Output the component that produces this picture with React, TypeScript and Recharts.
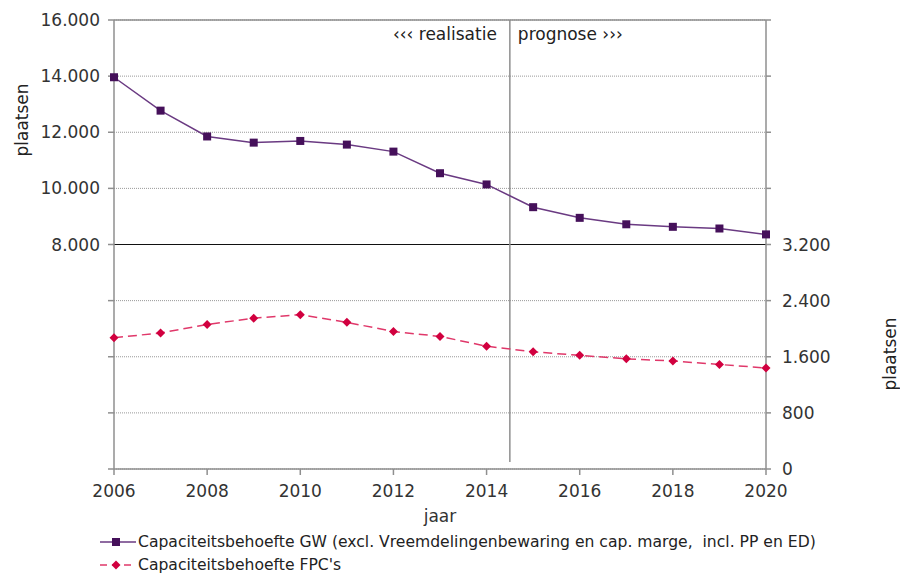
import { ComposedChart, Line, XAxis, YAxis, CartesianGrid, ReferenceLine, Label } from "recharts";

const years = [2006, 2007, 2008, 2009, 2010, 2011, 2012, 2013, 2014, 2015, 2016, 2017, 2018, 2019, 2020];
const gwValues = [13960, 12770, 11850, 11630, 11690, 11560, 11310, 10540, 10140, 9330, 8950, 8720, 8630, 8570, 8360];
const fpcValues = [1870, 1940, 2060, 2150, 2200, 2090, 1960, 1890, 1750, 1670, 1620, 1570, 1540, 1490, 1440];
const yearTicks = [2006, 2008, 2010, 2012, 2014, 2016, 2018, 2020];
const leftTicks = [0, 2000, 4000, 6000, 8000, 10000, 12000, 14000, 16000];
const rightTicks = [0, 800, 1600, 2400, 3200, 4000, 4800, 5600, 6400];

const gwName = "Capaciteitsbehoefte GW (excl. Vreemdelingenbewaring en cap. marge,  incl. PP en ED)";
const fpcName = "Capaciteitsbehoefte FPC's";

const data = years.map((year, i) => ({ year, gw: gwValues[i], fpc: fpcValues[i] }));

const FONT = "'DejaVu Sans', Verdana, sans-serif";
const GRAY = "#8f8f8f";
const PURPLE_LINE = "#6a3a82";
const PURPLE_DOT = "#45105a";
const RED_LINE = "#e0386a";
const RED_DOT = "#d1003f";

const fmt = (v: number) => String(v).replace(/\B(?=(\d{3})+(?!\d))/g, ".");

const SquareDot = (props: any) => {
  const { cx, cy } = props;
  if (cx == null || cy == null) return null;
  return <rect x={cx - 4} y={cy - 4} width={8} height={8} fill={PURPLE_DOT} />;
};

const DiamondDot = (props: any) => {
  const { cx, cy } = props;
  if (cx == null || cy == null) return null;
  return <polygon points={`${cx},${cy - 4.5} ${cx + 4.5},${cy} ${cx},${cy + 4.5} ${cx - 4.5},${cy}`} fill={RED_DOT} />;
};

const tickStyle = { fontSize: 17, fill: "#333", fontFamily: FONT };

// rotated axis title, placed relative to the axis box
const axisTitle = (dx: number, dy: number) => (p: any) => {
  const x = p.viewBox.x + dx;
  const y = p.viewBox.y + dy;
  return (
    <text x={x} y={y} transform={`rotate(-90 ${x} ${y})`} textAnchor="middle" dominantBaseline="central" style={{ fontSize: 17, fill: "#222", fontFamily: FONT }}>
      plaatsen
    </text>
  );
};

export default function App() {
  return (
    <div style={{ position: "relative", width: 900, height: 575, fontFamily: FONT }}>
      <style>{"body{margin:0}"}</style>
      <ComposedChart width={900} height={538} data={data} margin={{ top: 20, right: 10, bottom: 16, left: 18 }}>
        <CartesianGrid yAxisId="left" vertical={false} stroke="#999" strokeDasharray="1 1" />
        <XAxis
          dataKey="year"
          type="number"
          domain={[2006, 2020]}
          ticks={yearTicks}
          height={53}
          tickSize={6}
          tickMargin={10}
          tick={tickStyle}
          stroke={GRAY}
          strokeWidth={1.5}
        >
          <Label value="jaar" position="insideBottom" offset={0} style={{ fontSize: 17, fill: "#333", fontFamily: FONT }} />
        </XAxis>
        <YAxis
          yAxisId="left"
          domain={[0, 16000]}
          ticks={leftTicks}
          width={96}
          tickSize={6}
          tickMargin={8}
          tick={tickStyle}
          tickFormatter={(v: number) => (v >= 8000 ? fmt(v) : "")}
          stroke={GRAY}
          strokeWidth={1.5}
          label={{ content: axisTitle(4, 100) }}
        />
        <YAxis
          yAxisId="right"
          orientation="right"
          domain={[0, 6400]}
          ticks={rightTicks}
          width={124}
          tickSize={5}
          tickMargin={11}
          tick={tickStyle}
          tickFormatter={(v: number) => (v <= 3200 ? fmt(v) : "")}
          stroke={GRAY}
          strokeWidth={1.5}
          label={{ content: axisTitle(124, 334) }}
        />
        <ReferenceLine yAxisId="left" y={16000} stroke={GRAY} strokeWidth={1.5} />
        <ReferenceLine yAxisId="left" y={8000} stroke="#111" strokeWidth={1.2} />
        <ReferenceLine
          yAxisId="left"
          segment={[
            { x: 2014.5, y: 250 },
            { x: 2014.5, y: 16000 },
          ]}
          stroke={GRAY}
          strokeWidth={1.5}
        >
          <Label value="‹‹‹ realisatie" position="insideTopRight" offset={8} dx={-5} style={{ fontSize: 17, fill: "#222", fontFamily: FONT }} />
          <Label value="prognose ›››" position="insideTopLeft" offset={8} style={{ fontSize: 17, fill: "#222", fontFamily: FONT }} />
        </ReferenceLine>
        <Line
          yAxisId="left"
          dataKey="gw"
          name={gwName}
          stroke={PURPLE_LINE}
          strokeWidth={1.5}
          dot={<SquareDot />}
          isAnimationActive={false}
        />
        <Line
          yAxisId="right"
          dataKey="fpc"
          name={fpcName}
          stroke={RED_LINE}
          strokeWidth={1.5}
          strokeDasharray="9 5"
          dot={<DiamondDot />}
          isAnimationActive={false}
        />
      </ComposedChart>
      <div style={{ position: "absolute", left: 100, top: 530, fontSize: 15.6, color: "#222", lineHeight: "22px" }}>
        <div style={{ display: "flex", alignItems: "center", height: 24 }}>
          <svg width={38} height={12}>
            <line x1={0} y1={6} x2={36} y2={6} stroke={PURPLE_LINE} strokeWidth={1.5} />
            <rect x={12} y={2} width={8} height={8} fill={PURPLE_DOT} />
          </svg>
          <span style={{ whiteSpace: "pre" }}>{gwName}</span>
        </div>
        <div style={{ display: "flex", alignItems: "center", height: 21 }}>
          <svg width={38} height={12}>
            <line x1={0} y1={6} x2={36} y2={6} stroke={RED_LINE} strokeWidth={1.5} strokeDasharray="7 5" />
            <polygon points="16,1.5 20.5,6 16,10.5 11.5,6" fill={RED_DOT} />
          </svg>
          <span style={{ whiteSpace: "pre" }}>{fpcName}</span>
        </div>
      </div>
    </div>
  );
}
